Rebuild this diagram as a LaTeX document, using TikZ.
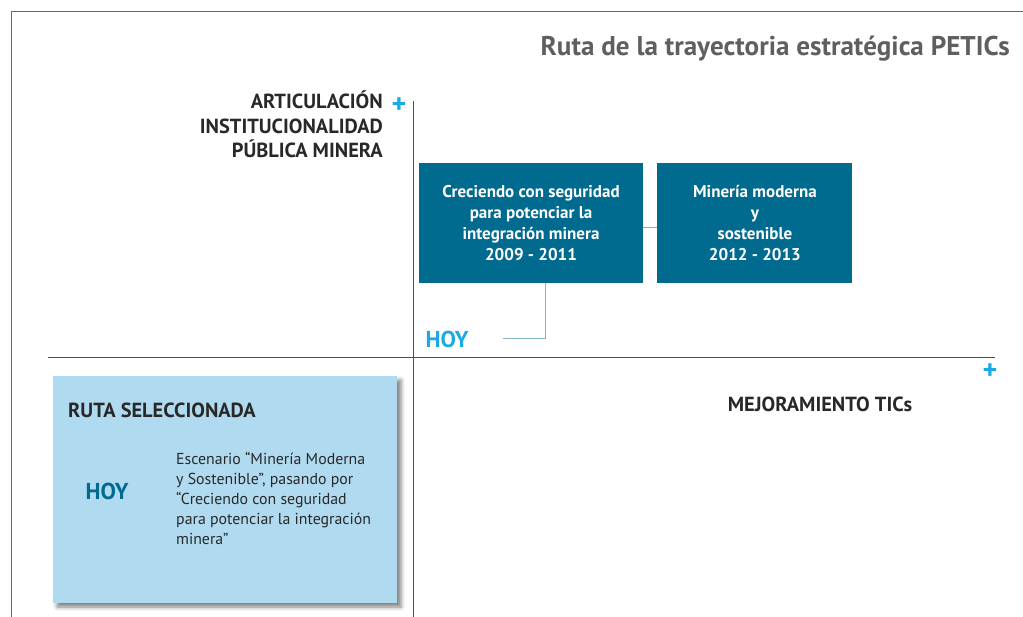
\documentclass[tikz,border=0pt]{standalone}
\usepackage{fontspec}
\setmainfont{PT Sans}
\usepackage{xcolor}
\usepackage{tikz}
\usetikzlibrary{positioning,shadows.blur,calc}
\definecolor{petrol}{RGB}{0,106,143}
\definecolor{skyblue}{RGB}{28,170,230}
\definecolor{paleblue}{RGB}{176,218,240}
\definecolor{linkblue}{RGB}{130,178,200}
\definecolor{framegray}{RGB}{105,105,105}
\definecolor{textgray}{RGB}{40,40,40}
\definecolor{titlegray}{RGB}{95,95,95}

\begin{document}
\begin{tikzpicture}[x=1pt,y=-1pt,
  stagebox/.style={fill=petrol,minimum height=120pt,inner sep=0pt,text=white,align=center,font=\fontsize{17}{20.8}\selectfont\bfseries},
  axislabel/.style={text=textgray,inner sep=0pt,font=\fontsize{20.4}{24.5}\selectfont\bfseries},
  plussign/.style={text=skyblue,inner sep=0pt,font=\fontsize{28}{28}\selectfont\bfseries},
  hoylabel/.style={inner sep=0pt,font=\fontsize{23}{23}\selectfont\bfseries},
  link/.style={linkblue,line width=1pt}]
\useasboundingbox (0,0) rectangle (1023,617);%
% frame and axes
\draw[framegray,line width=1pt] (11,617) |- (1023,12);%
\node[text=titlegray,anchor=east,inner sep=0pt,font=\fontsize{27.1}{27.1}\selectfont\bfseries] (title) at (1010,49) {Ruta de la trayectoria estratégica PETICs};%
\node[fill=paleblue,minimum width=344pt,minimum height=227pt,inner sep=0pt,blur shadow={shadow xshift=4pt,shadow yshift=-4pt,shadow blur radius=4pt,shadow opacity=50}] (ruta) at (225,489.5) {};%
\draw[petrol,line width=1pt] (413,101) -- (413,617);%
\draw[petrol,line width=1pt] (48,358) -- (995,358);%
\node[axislabel,anchor=east,align=right] (yaxis) at (383,124.5) {ARTICULACIÓN\\INSTITUCIONALIDAD\\PÚBLICA MINERA};%
\node[plussign] (yplus) at (399,106) {+};%
\node[plussign] (xplus) at (990,372) {+};%
\node[axislabel] (xaxis) at (820,404) {MEJORAMIENTO TICs};%
% stages
\node[stagebox,minimum width=224pt] (crece) at (531,223) {Creciendo con seguridad\\para potenciar la\\integración minera\\2009 - 2011};%
\node[stagebox,minimum width=195pt,right=14pt of crece] (moderna) {Minería moderna\\y\\sostenible\\2012 - 2013};%
\node[hoylabel,text=skyblue] (hoy) at (447,339) {HOY};%
\coordinate (hoyend) at (503,339);%
\draw[link] ([yshift=-5pt]crece.east) -- ([yshift=-5pt]moderna.west);%
\draw[link] ([xshift=14pt]crece.south) |- (hoyend);%
% selected route
\node[axislabel,anchor=west] (rutatitle) at (68,410) {RUTA SELECCIONADA};%
\node[hoylabel,text=petrol] (hoyruta) at (107,491) {HOY};%
\node[text=textgray,anchor=west,align=left,inner sep=0pt,font=\fontsize{15.85}{19.8}\selectfont] (escenario) at (176,498.5) {Escenario “Minería Moderna\\y Sostenible”, pasando por\\“Creciendo con seguridad\\para potenciar la integración\\minera”};%
\end{tikzpicture}
\end{document}
